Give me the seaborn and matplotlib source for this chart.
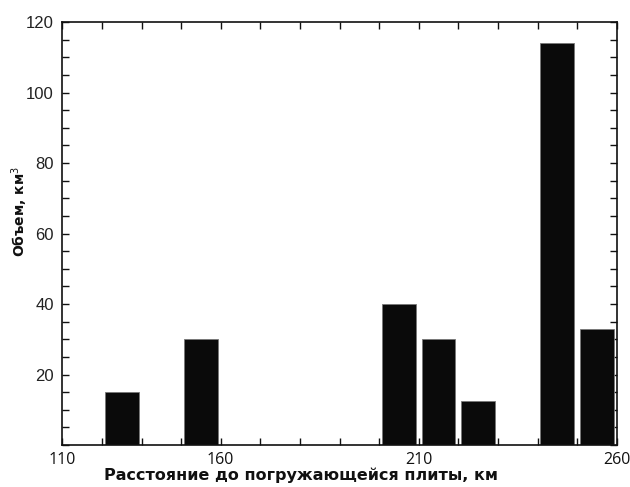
import numpy as np
import pandas as pd
import seaborn as sns
import matplotlib
matplotlib.use("Agg")
import matplotlib.pyplot as plt
from matplotlib.ticker import MultipleLocator, FixedLocator

# ---- data ----
distance_km = [125, 145, 195, 205, 215, 235, 245]   # bin centres on the axis
volume_km3 = [15, 30, 40, 30, 12.5, 114, 33]
xtick_pos = [110, 150, 200, 250]
xtick_labels = ["110", "160", "210", "260"]
ytick_vals = [20, 40, 60, 80, 100, 120]

df = pd.DataFrame({"distance": distance_km, "volume": volume_km3})

sns.set_theme(style="white")
plt.rcParams["font.family"] = ["Liberation Sans", "DejaVu Sans"]

fig = plt.figure(figsize=(6.3, 4.87), dpi=100)
ax = fig.add_axes([0.0989, 0.0862, 0.8800, 0.8686])

sns.barplot(data=df, x="distance", y="volume", native_scale=True, width=0.85,
            color="#0a0a0a", saturation=1, edgecolor="#777777", linewidth=0.6,
            ax=ax, errorbar=None)

ax.set_xlim(110, 250)
ax.set_ylim(0, 120)

for s in ax.spines.values():
    s.set_visible(True)
    s.set_color("#111111")
    s.set_linewidth(1.2)

ax.xaxis.set_major_locator(FixedLocator(xtick_pos))
ax.set_xticklabels(xtick_labels, fontsize=11.5, family=["Open Sans", "DejaVu Sans"], color="#111111")
ax.xaxis.set_minor_locator(MultipleLocator(10))
ax.yaxis.set_major_locator(FixedLocator(ytick_vals))
ax.set_yticklabels([str(v) for v in ytick_vals], fontsize=12, color="#222222")
ax.yaxis.set_minor_locator(MultipleLocator(5))

ax.tick_params(axis="both", which="both", direction="in", top=True, right=True,
               bottom=True, left=True, length=5, width=1.0, color="#111111")
ax.tick_params(axis="x", which="major", pad=5)
ax.tick_params(axis="y", which="major", pad=6)

ax.set_xlabel("Расстояние до погружающейся плиты, км", fontsize=11.5,
              fontweight="bold", family=["DejaVu Sans"], color="#111111")
ax.set_ylabel("Объем, км$^3$", fontsize=10, fontweight="bold",
              family=["DejaVu Sans"], color="#111111")
ax.xaxis.set_label_coords(0.43, -0.052)
ax.yaxis.set_label_coords(-0.058, 0.551)

fig.savefig("out.png", dpi=100)
